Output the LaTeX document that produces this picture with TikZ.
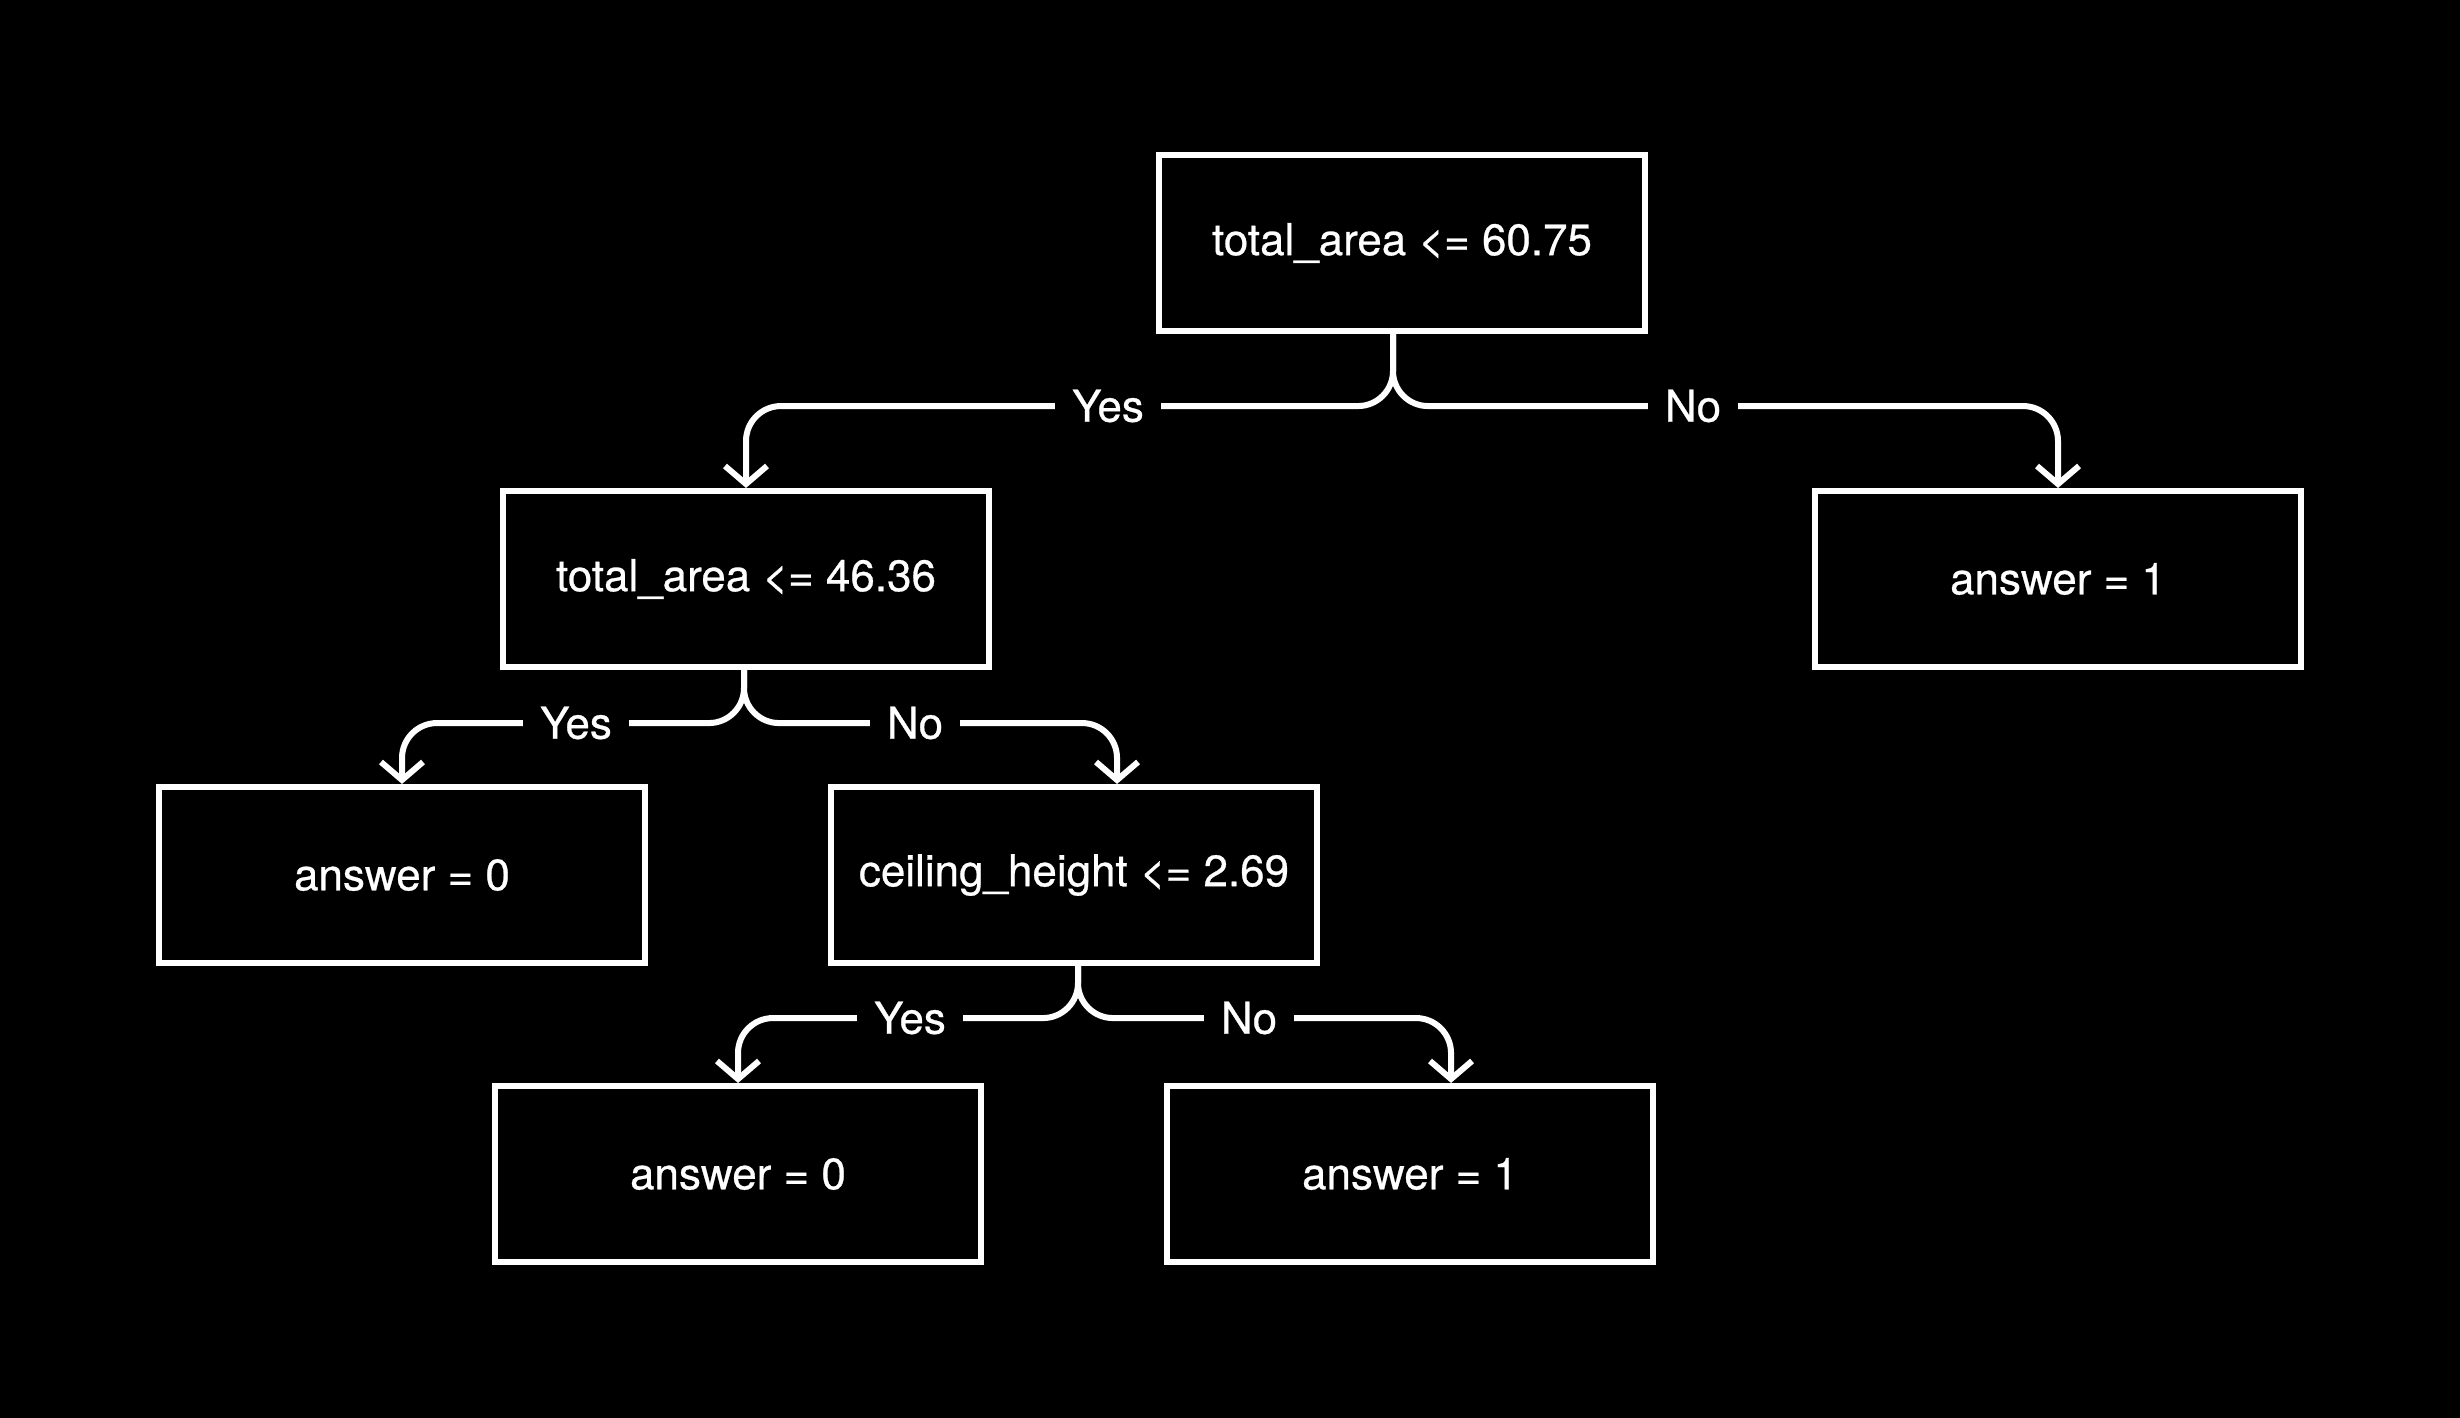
\documentclass[tikz,border=0pt]{standalone}
\usepackage{fontspec}
\setmainfont{TeX Gyre Heros}
\newfontfamily\medfont{TeX Gyre Heros}[FakeBold=0.6]
\usetikzlibrary{arrows.meta}
\tikzset{
  dnode/.style={draw=white, line width=0.06cm, minimum width=4.85cm, minimum height=1.76cm, text=white, inner sep=0pt, font=\medfont\fontsize{12.5}{15}\selectfont},
  br/.style={draw=white, line width=0.06cm, rounded corners=0.35cm, line cap=round, -{Straight Barb[length=0.18cm,width=0.42cm]}},
  ans/.style={fill=black, text=white, inner xsep=0.17cm, inner ysep=0.05cm, font=\medfont\fontsize{12.5}{15}\selectfont},
  dtree/.style={x=0.01cm, y=-0.01cm}
}

\begin{document}
\begin{tikzpicture}[dtree]
        \fill[black] (0,0) rectangle (2460,1418);
        \useasboundingbox (0,0) rectangle (2460,1418);
        % boxes
        \node[dnode] (root) at (1402,243) {total\_area <= 60.75};
        \node[dnode] (ta) at (746,579) {total\_area <= 46.36};
        \node[dnode] (a1r) at (2058,579) {answer = 1};
        \node[dnode] (a0l) at (402,875) {answer = 0};
        \node[dnode] (ch) at (1074,875) {ceiling\_height <= 2.69};
        \node[dnode] (a0b) at (738,1174) {answer = 0};
        \node[dnode] (a1b) at (1410,1174) {answer = 1};
        % branches
        \draw[br] ([xshift=-0.09cm]root.south) -- ++(0,72) -| (ta.north);
        \draw[br] ([xshift=-0.09cm]root.south) -- ++(0,72) -| (a1r.north);
        \draw[br] ([xshift=-0.02cm]ta.south) -- ++(0,53) -| (a0l.north);
        \draw[br] ([xshift=-0.02cm]ta.south) -- ++(0,53) -| ([xshift=0.43cm]ch.north);
        \draw[br] ([xshift=0.04cm]ch.south) -- ++(0,52) -| (a0b.north);
        \draw[br] ([xshift=0.04cm]ch.south) -- ++(0,52) -| ([xshift=0.41cm]a1b.north);
        % labels
        \node[ans] (y1) at (1108,406) {Yes};
        \node[ans] (n1) at (1693,406) {No};
        \node[ans] (y2) at (576,723) {Yes};
        \node[ans] (n2) at (915,723) {No};
        \node[ans] (y3) at (910,1018) {Yes};
        \node[ans] (n3) at (1249,1018) {No};
      \end{tikzpicture}
\end{document}
